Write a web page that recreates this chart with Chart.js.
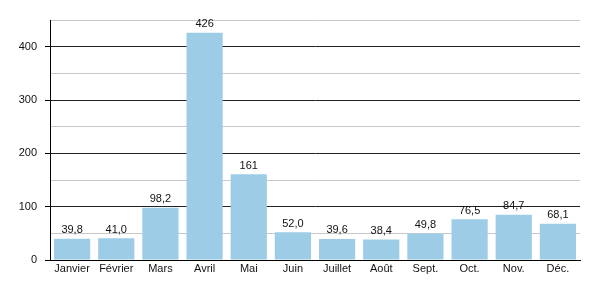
<!DOCTYPE html>
<html>
<head>
<meta charset="utf-8">
<script src="https://cdn.jsdelivr.net/npm/chart.js@4/dist/chart.umd.min.js"></script>
<style>
  html, body { margin: 0; padding: 0; background: #fff; }
  #wrap { width: 600px; height: 300px; }
</style>
</head>
<body>
<div id="wrap"><canvas id="myChart"></canvas></div>
<script>
var months = ['Janvier', 'Février', 'Mars', 'Avril', 'Mai', 'Juin', 'Juillet', 'Août', 'Sept.', 'Oct.', 'Nov.', 'Déc.'];
var values = [39.8, 41.0, 98.2, 426, 161, 52.0, 39.6, 38.4, 49.8, 76.5, 84.7, 68.1];
var yMax = 450;
var yStep = 50;

function fmt(v) {
    if (v >= 100) return String(Math.round(v));
    return v.toFixed(1).replace('.', ',');
}

// values on top of the bars
var barLabels = {
    id: 'barLabels',
    afterDatasetsDraw: function (chart) {
        var c = chart.ctx;
        var meta = chart.getDatasetMeta(0);
        c.save();
        c.font = '11px "Liberation Sans", Arial, sans-serif';
        c.fillStyle = '#111';
        c.textAlign = 'center';
        c.textBaseline = 'bottom';
        meta.data.forEach(function (bar, i) {
            c.fillText(fmt(values[i]), bar.x, bar.y - 3);
        });
        c.restore();
    }
};

var ctx = document.getElementById('myChart').getContext('2d');
var myChart = new Chart(ctx, {
    type: 'bar',
    data: {
        labels: months,
        datasets: [{
            data: values,
            backgroundColor: '#9dcde6',
            borderWidth: 0,
            barPercentage: 0.82,
            categoryPercentage: 1
        }]
    },
    options: {
        responsive: true,
        maintainAspectRatio: false,
        animation: false,
        layout: { padding: { top: 20, right: 20, left: 0, bottom: 0 } },
        plugins: {
            legend: { display: false },
            tooltip: { enabled: false }
        },
        scales: {
            x: {
                grid: { display: false, drawTicks: false },
                border: { color: '#000', width: 1 },
                ticks: {
                    color: '#111',
                    padding: 2,
                    font: { family: '"Liberation Sans", Arial, sans-serif', size: 11 },
                    maxRotation: 0,
                    autoSkip: false
                },
                afterFit: function (scale) { scale.height = 40; }
            },
            y: {
                min: 0,
                max: yMax,
                ticks: {
                    stepSize: yStep,
                    color: '#111',
                    padding: 8,
                    font: { family: '"Liberation Sans", Arial, sans-serif', size: 11 },
                    callback: function (v) { return v % 100 === 0 ? v : ''; }
                },
                grid: {
                    color: function (c) { return c.tick && c.tick.value % 100 === 0 ? '#222' : '#c8c8c8'; },
                    tickColor: function (c) { return c.tick && c.tick.value % 100 === 0 ? '#000' : 'transparent'; },
                    tickLength: 5
                },
                border: { color: '#000', width: 1 },
                afterFit: function (scale) { scale.width = 50; }
            }
        }
    },
    plugins: [barLabels]
});
</script>
</body>
</html>
